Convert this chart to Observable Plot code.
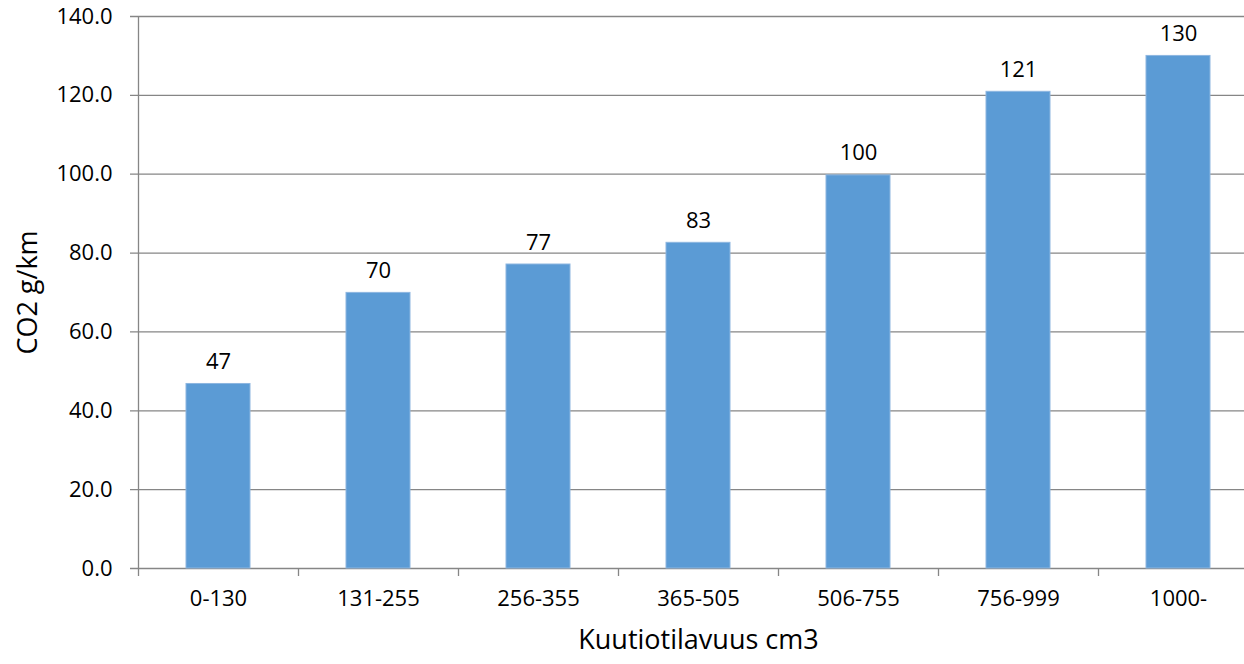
<!DOCTYPE html>
<html>
<head>
<meta charset="utf-8">
<script src="https://cdn.jsdelivr.net/npm/d3@7"></script>
<script src="https://cdn.jsdelivr.net/npm/@observablehq/plot@0.6"></script>
<style>
  html, body { margin: 0; padding: 0; background: #fff; }
  #chart { width: 1244px; height: 664px; overflow: hidden; }
</style>
</head>
<body>
<div id="chart"></div>
<script>
const categories = ["0-130", "131-255", "256-355", "365-505", "506-755", "756-999", "1000-"];
const values = [46.8, 69.9, 77.1, 82.6, 99.7, 120.9, 130.0];
const yTicks = [0, 20, 40, 60, 80, 100, 120, 140];
const yTitle = "CO2 g/km";
const xTitle = "Kuutiotilavuus cm3";

const data = categories.map((c, i) => ({category: c, value: values[i]}));
const fmtTick = d3.format(".1f");
const fmtLabel = d3.format(".0f");
const gridColor = "#868686";
const font = "'Open Sans', Lato, sans-serif";

const chart = Plot.plot({
  width: 1244,
  height: 664,
  marginTop: 16,
  marginBottom: 96,
  marginLeft: 138,
  marginRight: 0,
  style: {fontFamily: font, background: "#fff", color: "#000"},
  x: {domain: categories, range: [138, 1258], paddingInner: 0.6, paddingOuter: 0.3, axis: null},
  y: {domain: [0, 140], axis: null},
  marks: [
    // gridlines with left tick marks
    Plot.ruleY(yTicks, {y: d => d, stroke: gridColor, strokeWidth: 1.3, insetLeft: -8}),
    // y axis line
    Plot.ruleX([categories[0]], {x: d => d, dx: -80, y1: 0, y2: 140, stroke: gridColor, strokeWidth: 1.3}),
    // bars
    Plot.barY(data, {x: "category", y: "value", fill: "#5B9BD5", stroke: "#8DB6E0", strokeWidth: 1}),
    // category boundary ticks
    Plot.ruleX(categories, {x: d => d, dx: -80, y1: 0, y2: 0, insetBottom: -8, stroke: gridColor, strokeWidth: 1.3}),
    // y tick labels
    Plot.text(yTicks, {y: d => d, text: d => fmtTick(d), frameAnchor: "left", dx: -26, textAnchor: "end", fontSize: 22, fill: "#000"}),
    // x tick labels
    Plot.text(categories, {x: d => d, text: d => d, frameAnchor: "bottom", dy: 37, fontSize: 22, fill: "#000"}),
    // value labels
    Plot.text(data, {x: "category", y: "value", text: d => fmtLabel(d.value), dy: -22, fontSize: 22, fill: "#000"}),
    // axis titles
    Plot.text([yTitle], {frameAnchor: "left", textAnchor: "middle", rotate: -90, dx: -110, fontSize: 27, fill: "#000"}),
    Plot.text([xTitle], {frameAnchor: "bottom", dy: 80, x: () => categories[3], fontSize: 27, fill: "#000"})
  ]
});
document.getElementById("chart").appendChild(chart);
</script>
</body>
</html>
